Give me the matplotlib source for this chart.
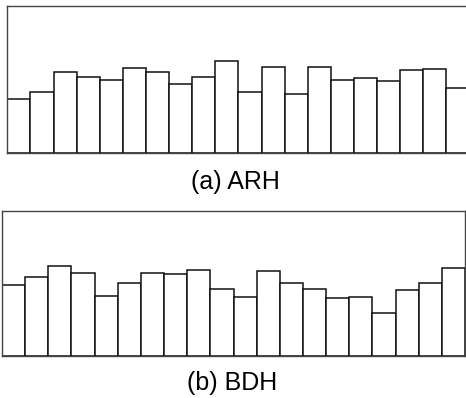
import numpy as np
import matplotlib.pyplot as plt

plt.rcParams['font.family'] = ['Liberation Sans', 'DejaVu Sans']

# valores normalizados (20 barras por painel)
arh = [0.365, 0.412, 0.548, 0.518, 0.498, 0.575, 0.548, 0.468, 0.518, 0.622,
       0.412, 0.584, 0.403, 0.584, 0.498, 0.507, 0.491, 0.563, 0.572, 0.439]
bdh = [0.493, 0.548, 0.619, 0.575, 0.417, 0.502, 0.575, 0.564, 0.592, 0.465,
       0.410, 0.585, 0.502, 0.465, 0.401, 0.410, 0.300, 0.458, 0.502, 0.610]
captions = ['(a) ARH', '(b) BDH']

fig = plt.figure(figsize=(4.66, 3.98), dpi=100)

# posicoes dos paineis (fracoes da figura)
ax1 = fig.add_axes([0.0157, 0.6156, 0.9918, 0.370])
ax2 = fig.add_axes([0.0043, 0.1048, 0.9936, 0.365])

for ax, vals in [(ax1, arh), (ax2, bdh)]:
    x = np.arange(len(vals))
    ax.bar(x, vals, width=1.0, color='white', edgecolor='#111111', linewidth=1.1)
    ax.set_xlim(-0.5, len(vals) - 0.5)
    ax.set_ylim(0, 1)
    ax.set_xticks([])
    ax.set_yticks([])
    for s in ax.spines.values():
        s.set_color('#444444')
        s.set_linewidth(1.0)

# legendas dos paineis
fig.text(235.5 / 466, 1 - 189 / 398, captions[0], ha='center', va='baseline', fontsize=18)
fig.text(232.5 / 466, 1 - 390 / 398, captions[1], ha='center', va='baseline', fontsize=18)

fig.savefig('out.png', dpi=100)
